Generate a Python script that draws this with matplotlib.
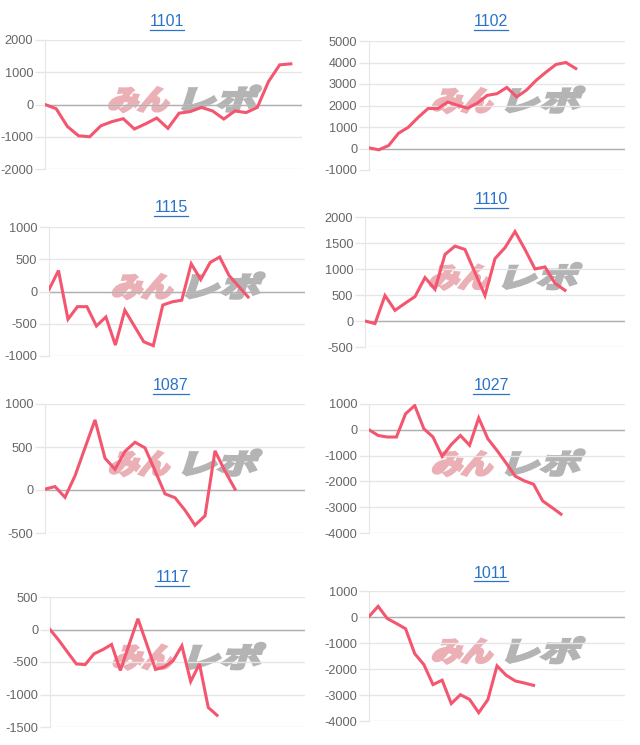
import matplotlib
matplotlib.use("Agg")
import matplotlib.pyplot as plt
from matplotlib.textpath import TextPath
from matplotlib.patches import PathPatch
from matplotlib.font_manager import FontProperties
from matplotlib.transforms import Affine2D
from matplotlib.lines import Line2D

plt.rcParams['font.family'] = ['Liberation Sans', 'DejaVu Sans']
plt.rcParams['axes.unicode_minus'] = False

# chart data
titles = ["1101", "1102", "1115", "1110", "1087", "1027", "1117", "1011"]
n_slots = [24, 27, 28, 27, 27, 29, 30, 29]

s1101 = [0, -130, -680, -970, -1000, -660, -530, -440, -760, -600, -420, -740,
         -270, -220, -90, -200, -450, -200, -250, -90, 710, 1230, 1260]
s1102 = [30, -60, 140, 710, 990, 1450, 1860, 1860, 2160, 2010, 1880, 2110,
         2470, 2550, 2840, 2400, 2720, 3180, 3560, 3910, 4000, 3720]
s1115 = [30, 325, -430, -235, -235, -535, -395, -830, -290, -535, -780, -840,
         -210, -160, -135, 430, 185, 450, 535, 245, 80, -85]
s1110 = [0, -50, 490, 205, 340, 470, 835, 610, 1280, 1440, 1375, 930, 490,
         1200, 1410, 1720, 1375, 1000, 1040, 725, 590]
s1087 = [10, 40, -85, 165, 490, 815, 370, 240, 450, 555, 490, 225, -45, -90,
         -235, -410, -300, 455, 220, 10]
s1027 = [0, -220, -280, -280, 620, 940, 40, -280, -1030, -570, -220, -600, 460,
         -350, -800, -1290, -1800, -1980, -2110, -2760, -3010, -3270]
s1117 = [0, -165, -350, -530, -540, -375, -310, -230, -630, -230, 165, -225,
         -615, -575, -480, -250, -800, -530, -1200, -1320]
s1011 = [20, 410, -60, -250, -450, -1410, -1830, -2600, -2430, -3330, -2990,
         -3170, -3680, -3180, -1880, -2240, -2460, -2540, -2630]
series = [s1101, s1102, s1115, s1110, s1087, s1027, s1117, s1011]

y_ticks = [
    [-2000, -1000, 0, 1000, 2000],
    [-1000, 0, 1000, 2000, 3000, 4000, 5000],
    [-1000, -500, 0, 500, 1000],
    [-500, 0, 500, 1000, 1500, 2000],
    [-500, 0, 500, 1000],
    [-4000, -3000, -2000, -1000, 0, 1000],
    [-1500, -1000, -500, 0, 500],
    [-4000, -3000, -2000, -1000, 0, 1000],
]

# layout in pixels: x0, x1, top, bottom, title x, title y
W, H = 640, 745
boxes = [
    (45, 302, 40, 169, 167, 22),
    (369, 625, 41, 170, 491, 22),
    (49, 305, 227, 356, 171, 208),
    (365, 625, 217, 347, 491, 200),
    (45, 305, 404, 533, 171, 386),
    (369, 625, 404, 533, 491, 386),
    (50, 305, 597, 727, 172, 578),
    (369, 625, 591, 721, 491, 573),
]

line_color = "#f4566f"
grid_color = "#e6e6e6"
title_color = "#2a73c8"

fig = plt.figure(figsize=(W / 100, H / 100), dpi=100)

# watermark glyph paths
wm_font = FontProperties(family="Noto Sans CJK JP", weight="bold")
p_min = TextPath((0, 0), "みん", prop=wm_font, size=29)
p_repo = TextPath((0, 0), "レポ", prop=wm_font, size=29)

title_texts = []
for i in range(8):
    x0, x1, top, bot, tx, ty = boxes[i]
    ax = fig.add_axes([x0 / W, 1 - bot / H, (x1 - x0) / W, (bot - top) / H])
    aw, ah = x1 - x0, bot - top

    # watermark
    for path, color, dx, sx in [(p_min, "#ebb0b6", 0.24 * aw, 1.05),
                                (p_repo, "#b4b4b4", 0.24 * aw + 68, 1.4)]:
        tr = (Affine2D().scale(sx, 0.95).skew_deg(18, 0)
              .translate(dx, 0.46 * ah).scale(1 / aw, 1 / ah) + ax.transAxes)
        ax.add_patch(PathPatch(path, transform=tr, facecolor=color,
                               edgecolor=color, lw=2.2, zorder=0.5))

    vals = series[i]
    ax.plot(range(len(vals)), vals, color=line_color, lw=2.2, zorder=3,
            solid_joinstyle="miter")
    ax.set_xlim(0, n_slots[i] - 1)
    ax.set_ylim(y_ticks[i][0], y_ticks[i][-1])
    ax.set_yticks(y_ticks[i])
    ax.set_xticks([])
    ax.grid(axis="y", color=grid_color, lw=1)
    ax.axhline(0, color="#b0b0b0", lw=1, zorder=1.6)
    for s in ["top", "right", "bottom"]:
        ax.spines[s].set_visible(False)
    ax.spines["left"].set_color(grid_color)
    ax.tick_params(axis="y", length=7, width=1, color=grid_color, pad=1.5,
                   labelsize=9.2, labelcolor="#666666")

    t = fig.text(tx / W, 1 - ty / H, titles[i], ha="center", va="center",
                 fontsize=11.5, color=title_color)
    title_texts.append(t)

# underline titles
fig.canvas.draw()
r = fig.canvas.get_renderer()
for t in title_texts:
    bb = t.get_window_extent(r)
    yl = bb.y0 - 0.5
    fig.add_artist(Line2D([bb.x0 / W, bb.x1 / W], [yl / H, yl / H],
                          color=title_color, lw=0.9))

fig.savefig("out.png", dpi=100)
